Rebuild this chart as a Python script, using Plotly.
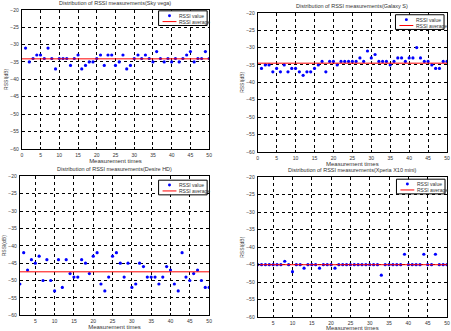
import plotly.graph_objects as go

W, H = 451, 331

x_top = list(range(1, 51))
sky_vega = [-31, -35, -34, -33, -33, -34, -31, -34, -37, -34,
            -34, -34, -36, -34, -33, -37, -36, -35, -35, -34,
            -33, -36, -33, -33, -36, -35, -33, -37, -36, -34,
            -33, -34, -33, -34, -35, -32, -34, -35, -34, -35,
            -34, -35, -34, -33, -32, -35, -34, -34, -32, -34]
sky_vega_avg = -34.1

galaxy_s = [-36, -35, -35, -37, -36, -37, -35, -37, -36, -36,
            -37, -38, -37, -37, -36, -35, -34, -37, -34, -34,
            -35, -34, -34, -34, -34, -34, -33, -34, -31, -33,
            -32, -34, -34, -34, -35, -34, -33, -33, -34, -33,
            -33, -30, -33, -34, -34, -35, -36, -36, -34, -34]
galaxy_s_avg = -34.5

desire_hd = [-51, -42, -47, -44, -45, -43, -50, -44, -50, -53,
             -44, -52, -44, -48, -49, -49, -44, -45, -48, -43,
             -42, -51, -53, -49, -43, -42, -45, -49, -45, -52,
             -51, -45, -46, -49, -49, -49, -51, -49, -46, -47,
             -51, -53, -42, -49, -50, -48, -47, -50, -52, -52]
desire_hd_avg = -47.5

xperia = [-45, -45, -45, -45, -45, -45, -45, -44, -45, -47,
          -45, -45, -46, -45, -45, -45, -46, -45, -45, -45,
          -46, -45, -45, -45, -45, -45, -45, -45, -45, -45,
          -45, -45, -48, -45, -45, -45, -45, -45, -42, -45,
          -45, -45, -45, -42, -45, -45, -42, -45, -45, -45]
xperia_avg = -45.0

titles = ["Distribution of RSSI measurements(Sky vega)",
          "Distribution of RSSI measurements(Galaxy S)",
          "Distribution of RSSI measurements(Desire HD)",
          "Distribution of RSSI measurements(Xperia X10 mini)"]
legend_labels = ["RSSI value", "RSSI average"]
series = [sky_vega, galaxy_s, desire_hd, xperia]
avgs = [sky_vega_avg, galaxy_s_avg, desire_hd_avg, xperia_avg]
xranges = [[0, 50], [0, 50], [1, 50], [1, 50]]
xticks = [list(range(0, 51, 5)), list(range(0, 51, 5)),
          list(range(5, 51, 5)), list(range(5, 51, 5))]
yticks = list(range(-60, -19, 5))

# pixel boxes: left, right, top, bottom
boxes = [(21, 210, 7, 149), (259, 450, 10, 152),
         (19, 210, 177, 319), (259, 450, 178, 321)]
legend_pos = [(208, 8), (447, 12), (208, 181), (448, 180)]

TXT = "#333333"
FONT = "Liberation Sans"
BLUE = "#0000ff"
RED = "#ff0000"

def px(x):
    return x / W

def py(y):
    return 1 - y / H

fig = go.Figure()
layout = dict(width=W, height=H, margin=dict(l=0, r=0, t=0, b=0),
              paper_bgcolor="white", plot_bgcolor="white", showlegend=False,
              font=dict(family=FONT, size=5, color=TXT), annotations=[], shapes=[])

for i in range(4):
    sfx = "" if i == 0 else str(i + 1)
    l, r, t, b = boxes[i]
    xa = "x" + sfx
    ya = "y" + sfx
    fig.add_trace(go.Scatter(x=x_top, y=series[i], mode="markers",
                             marker=dict(color=BLUE, size=3.2),
                             name=legend_labels[0], xaxis=xa, yaxis=ya))
    fig.add_trace(go.Scatter(x=xranges[i], y=[avgs[i], avgs[i]], mode="lines",
                             line=dict(color=RED, width=1),
                             name=legend_labels[1], xaxis=xa, yaxis=ya))
    layout["xaxis" + sfx] = dict(
        domain=[l / W, r / W], anchor=ya, range=xranges[i], tickvals=xticks[i],
        showline=True, mirror=True, linecolor="black", linewidth=1,
        showgrid=True, gridcolor="black", gridwidth=0.6, griddash="dot",
        ticks="inside", ticklen=2, tickcolor="black", zeroline=False,
        tickfont=dict(size=5, color=TXT), ticklabelstandoff=1,
        title=dict(text="Measurement times", font=dict(size=6, color=TXT), standoff=1))
    layout["yaxis" + sfx] = dict(
        domain=[1 - b / H, 1 - t / H], anchor=xa, range=[-60, -20], tickvals=yticks,
        showline=True, mirror=True, linecolor="black", linewidth=1,
        showgrid=True, gridcolor="black", gridwidth=0.6, griddash="dot",
        ticks="inside", ticklen=2, tickcolor="black", zeroline=False,
        tickfont=dict(size=5, color=TXT), ticklabelstandoff=1,
        title=dict(text="RSSI(dB)", font=dict(size=5, color=TXT), standoff=1))
    layout["annotations"].append(dict(
        text=titles[i], x=(l + r) / 2 / W, y=1 - (t - 2) / H, xref="paper", yref="paper",
        xanchor="center", yanchor="bottom", showarrow=False,
        font=dict(size=5.5, color=TXT)))

    # legend box (decoration)
    lx, ly = legend_pos[i]
    layout["shapes"].append(dict(type="rect", xref="paper", yref="paper",
                                 x0=px(lx - 49), x1=px(lx), y0=py(ly + 15), y1=py(ly),
                                 line=dict(color="black", width=1), fillcolor="white",
                                 layer="above"))
    layout["shapes"].append(dict(type="circle", xref="paper", yref="paper",
                                 x0=px(lx - 39.5), x1=px(lx - 36.5),
                                 y0=py(ly + 6.5), y1=py(ly + 3.5),
                                 line=dict(color=BLUE, width=0), fillcolor=BLUE,
                                 layer="above"))
    layout["shapes"].append(dict(type="line", xref="paper", yref="paper",
                                 x0=px(lx - 45), x1=px(lx - 31),
                                 y0=py(ly + 11), y1=py(ly + 11),
                                 line=dict(color=RED, width=1), layer="above"))
    for k, lab in enumerate(legend_labels):
        layout["annotations"].append(dict(
            text=lab, x=px(lx - 30), y=py(ly + 5 + 6 * k), xref="paper", yref="paper",
            xanchor="left", yanchor="middle", showarrow=False,
            font=dict(size=5, color=TXT)))

fig.update_layout(**layout)
fig.write_html("out.html")
